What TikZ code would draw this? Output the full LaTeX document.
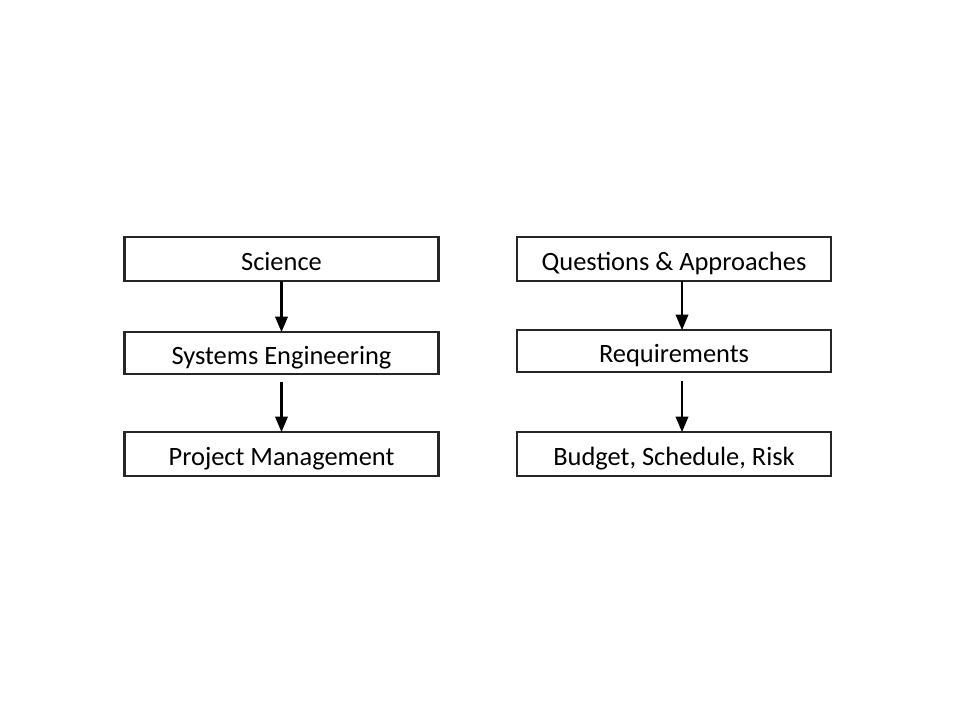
\documentclass[tikz,border=0pt]{standalone}
\usepackage{fontspec}
\setmainfont{Carlito}
\usepackage{tikz}
\usetikzlibrary{arrows,shapes,positioning}
\usepackage{xcolor}

\tikzset{
  stage/.style={draw=black!85, line width=0.7mm, fill=white, minimum width=78.5mm,
    minimum height=11mm, inner sep=0pt, outer sep=0pt, text height=17pt, text depth=0pt,
    font=\fontsize{18.8}{22}\selectfont},
  thin stage/.style={stage, minimum height=10.5mm},
  flow/.style={-triangle 45, line width=0.55mm}
}

\begin{document}
\begin{tikzpicture}[x=0.25mm, y=0.25mm] % {{{
    \useasboundingbox (0,0) rectangle (960,-720);
    % left column {{{
    \node[stage] (science) at (281.5,-259) {Science};
    \node[thin stage, below=12.75mm of science] (syseng) {Systems Engineering};
    \node[stage, below=14.5mm of syseng] (projman) {Project Management};
    \draw[flow] (science) -- (syseng);
    \draw[flow] ([yshift=-2mm]syseng.south) -- (projman);
    % }}}
    % right column {{{
    \node[stage] (questions) at (674,-259) {Questions \& Approaches};
    \node[thin stage, below=12.25mm of questions] (reqs) {Requirements};
    \node[stage, below=15mm of reqs] (budget) {Budget, Schedule, Risk};
    \draw[flow] ([xshift=2mm]questions.south) -- ([xshift=2mm]reqs.north);
    \draw[flow] ([xshift=2mm,yshift=-2.25mm]reqs.south) -- ([xshift=2mm]budget.north);
    % }}}
\end{tikzpicture} % }}}
\end{document}
